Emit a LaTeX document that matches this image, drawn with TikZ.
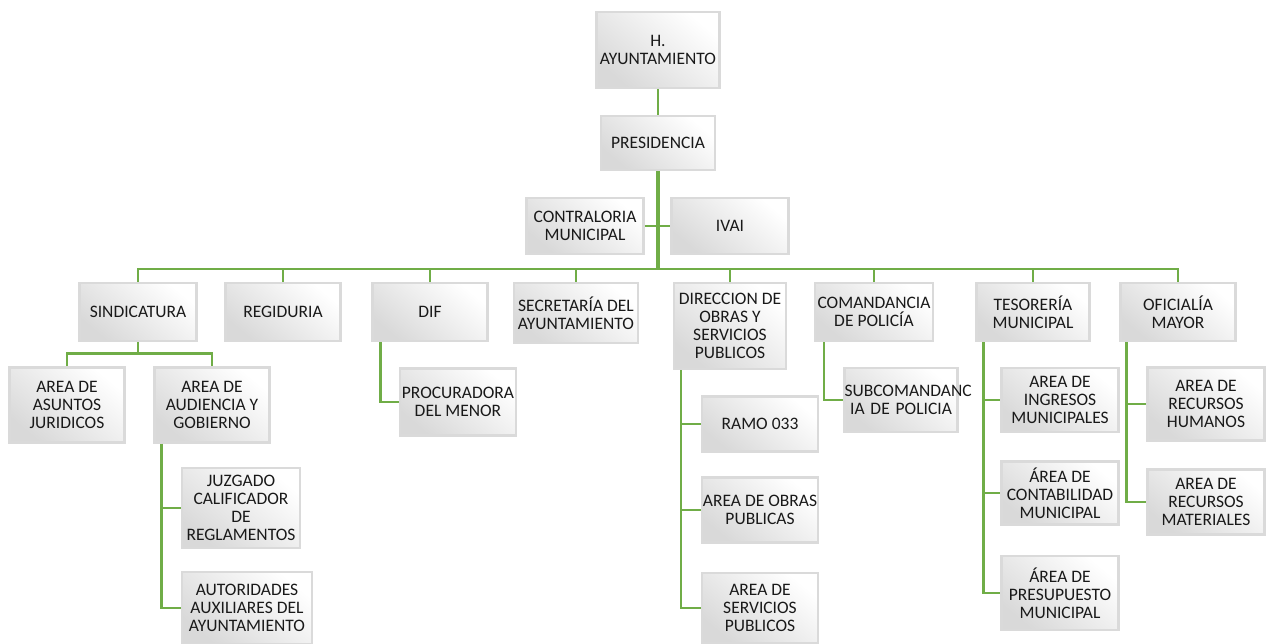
\documentclass[tikz,border=0pt]{standalone}
\usepackage{fontspec}
\setmainfont{Carlito}
\usetikzlibrary{shapes.geometric, arrows}
\definecolor{orggreen}{RGB}{112,173,71}
\definecolor{rimgray}{RGB}{218,218,218}
\tikzstyle{unit} = [rectangle, align=center, text=black!90, font=\fontsize{17.5}{17.8}\selectfont, draw=rimgray, line width=2.5, shading=axis, top color=white, bottom color=gray!30, shading angle=-40, inner sep=0]
\tikzstyle{link} = [draw=orggreen, line width=2.5]
\tikzstyle{trunk} = [draw=orggreen, line width=3.5]

\begin{document}
\begin{tikzpicture}[x=1pt, y=1pt, node distance=20]
\useasboundingbox (0,0) rectangle (1272,-643);

% Top
\node (HA) [unit, minimum width=123, minimum height=76] at (658,-50) {H.\\AYUNTAMIENTO};
\node (PRE) [unit, below of=HA, yshift=-73, minimum width=114, minimum height=54] {PRESIDENCIA};
\node (CON) [unit, below of=PRE, xshift=-73, yshift=-63, minimum width=117, minimum height=56] {CONTRALORIA\\MUNICIPAL};
\node (IVA) [unit, below of=PRE, xshift=72, yshift=-63, minimum width=117, minimum height=56] {IVAI};
\coordinate [below of=PRE, yshift=-106] (BAR);

% Second level
\node (SIN) [unit, below of=PRE, xshift=-520, yshift=-149, minimum width=117, minimum height=58] {SINDICATURA};
\node (REG) [unit, below of=PRE, xshift=-375, yshift=-149, minimum width=115, minimum height=58] {REGIDURIA};
\node (DIF) [unit, below of=PRE, xshift=-228, yshift=-149, minimum width=115, minimum height=58] {DIF};
\node (SEC) [unit, below of=PRE, xshift=-82, yshift=-150, minimum width=124, minimum height=60] {SECRETARÍA DEL\\AYUNTAMIENTO};
\node (DOS) [unit, below of=PRE, xshift=72, yshift=-163, minimum width=112, minimum height=86] {DIRECCION DE\\OBRAS Y\\SERVICIOS\\PUBLICOS};
\node (COM) [unit, below of=PRE, xshift=216, yshift=-149, minimum width=118, minimum height=58] {COMANDANCIA\\DE POLICÍA};
\node (TES) [unit, below of=PRE, xshift=375, yshift=-149, minimum width=113, minimum height=58] {TESORERÍA\\MUNICIPAL};
\node (OFI) [unit, below of=PRE, xshift=520, yshift=-149, minimum width=115, minimum height=58] {OFICIALÍA\\MAYOR};

% Sindicatura side
\node (AJ) [unit, below of=SIN, xshift=-71, yshift=-73, minimum width=115, minimum height=75] {AREA DE\\ASUNTOS\\JURIDICOS};
\node (AAG) [unit, below of=SIN, xshift=74, yshift=-73, minimum width=115, minimum height=75] {AREA DE\\AUDIENCIA Y\\GOBIERNO};
\node (JUZ) [unit, below of=AAG, xshift=29, yshift=-83, minimum width=118, minimum height=80] {JUZGADO\\CALIFICADOR\\DE\\REGLAMENTOS};
\node (AUT) [unit, below of=JUZ, xshift=6, yshift=-80, minimum width=130, minimum height=72] {AUTORIDADES\\AUXILIARES DEL\\AYUNTAMIENTO};

% DIF
\node (PRO) [unit, below of=DIF, xshift=28, yshift=-70, minimum width=116, minimum height=67] {PROCURADORA\\DEL MENOR};

% Obras
\node (R33) [unit, below of=DOS, xshift=30, yshift=-78, minimum width=116, minimum height=55] {RAMO 033};
\node (AOP) [unit, below of=R33, yshift=-66, minimum width=116, minimum height=65] {AREA DE OBRAS\\PUBLICAS};
\node (ASP) [unit, below of=AOP, yshift=-78, minimum width=116, minimum height=70] {AREA DE\\SERVICIOS\\PUBLICOS};

% Policia
\node (SUB) [unit, below of=COM, xshift=27, yshift=-68, text width=113, minimum height=64] {SUBCOMANDANC\\IA DE POLICIA};

% Tesoreria
\node (AIM) [unit, below of=TES, xshift=27, yshift=-68, minimum width=117, minimum height=64] {AREA DE\\INGRESOS\\MUNICIPALES};
\node (ACM) [unit, below of=AIM, yshift=-73, minimum width=117, minimum height=63] {ÁREA DE\\CONTABILIDAD\\MUNICIPAL};
\node (APM) [unit, below of=ACM, yshift=-80, minimum width=117, minimum height=74] {ÁREA DE\\PRESUPUESTO\\MUNICIPAL};

% Oficialia
\node (ARH) [unit, below of=OFI, xshift=28, yshift=-72, minimum width=117, minimum height=73] {AREA DE\\RECURSOS\\HUMANOS};
\node (ARM) [unit, below of=ARH, yshift=-78, minimum width=117, minimum height=65] {AREA DE\\RECURSOS\\MATERIALES};

% Connecting lines
\draw [link] (HA) -- (PRE);
\draw [trunk] (PRE) -- (BAR);
\draw [link] (CON) -- (IVA);
\draw [link] (BAR) -| (SIN);
\draw [link] (BAR) -| (REG);
\draw [link] (BAR) -| (DIF);
\draw [link] (BAR) -| (SEC);
\draw [link] (BAR) -| (DOS);
\draw [link] (BAR) -| (COM);
\draw [link] (BAR) -| (TES);
\draw [link] (BAR) -| (OFI);

\draw [link] (SIN.south) |- ([yshift=13]AJ.north) -- (AJ.north);
\draw [link] (SIN.south) |- ([yshift=13]AAG.north) -- (AAG.north);
\draw [link] ([xshift=8]AAG.south west) |- (JUZ.west);
\draw [link] ([xshift=8]AAG.south west) |- (AUT.west);

\draw [link] ([xshift=9]DIF.south west) |- (PRO.west);

\draw [link] ([xshift=8]DOS.south west) |- (R33.west);
\draw [link] ([xshift=8]DOS.south west) |- (AOP.west);
\draw [link] ([xshift=8]DOS.south west) |- (ASP.west);

\draw [link] ([xshift=10]COM.south west) |- (SUB.west);

\draw [link] ([xshift=8]TES.south west) |- (AIM.west);
\draw [link] ([xshift=8]TES.south west) |- (ACM.west);
\draw [link] ([xshift=8]TES.south west) |- (APM.west);

\draw [link] ([xshift=7]OFI.south west) |- (ARH.west);
\draw [link] ([xshift=7]OFI.south west) |- (ARM.west);

\end{tikzpicture}
\end{document}
